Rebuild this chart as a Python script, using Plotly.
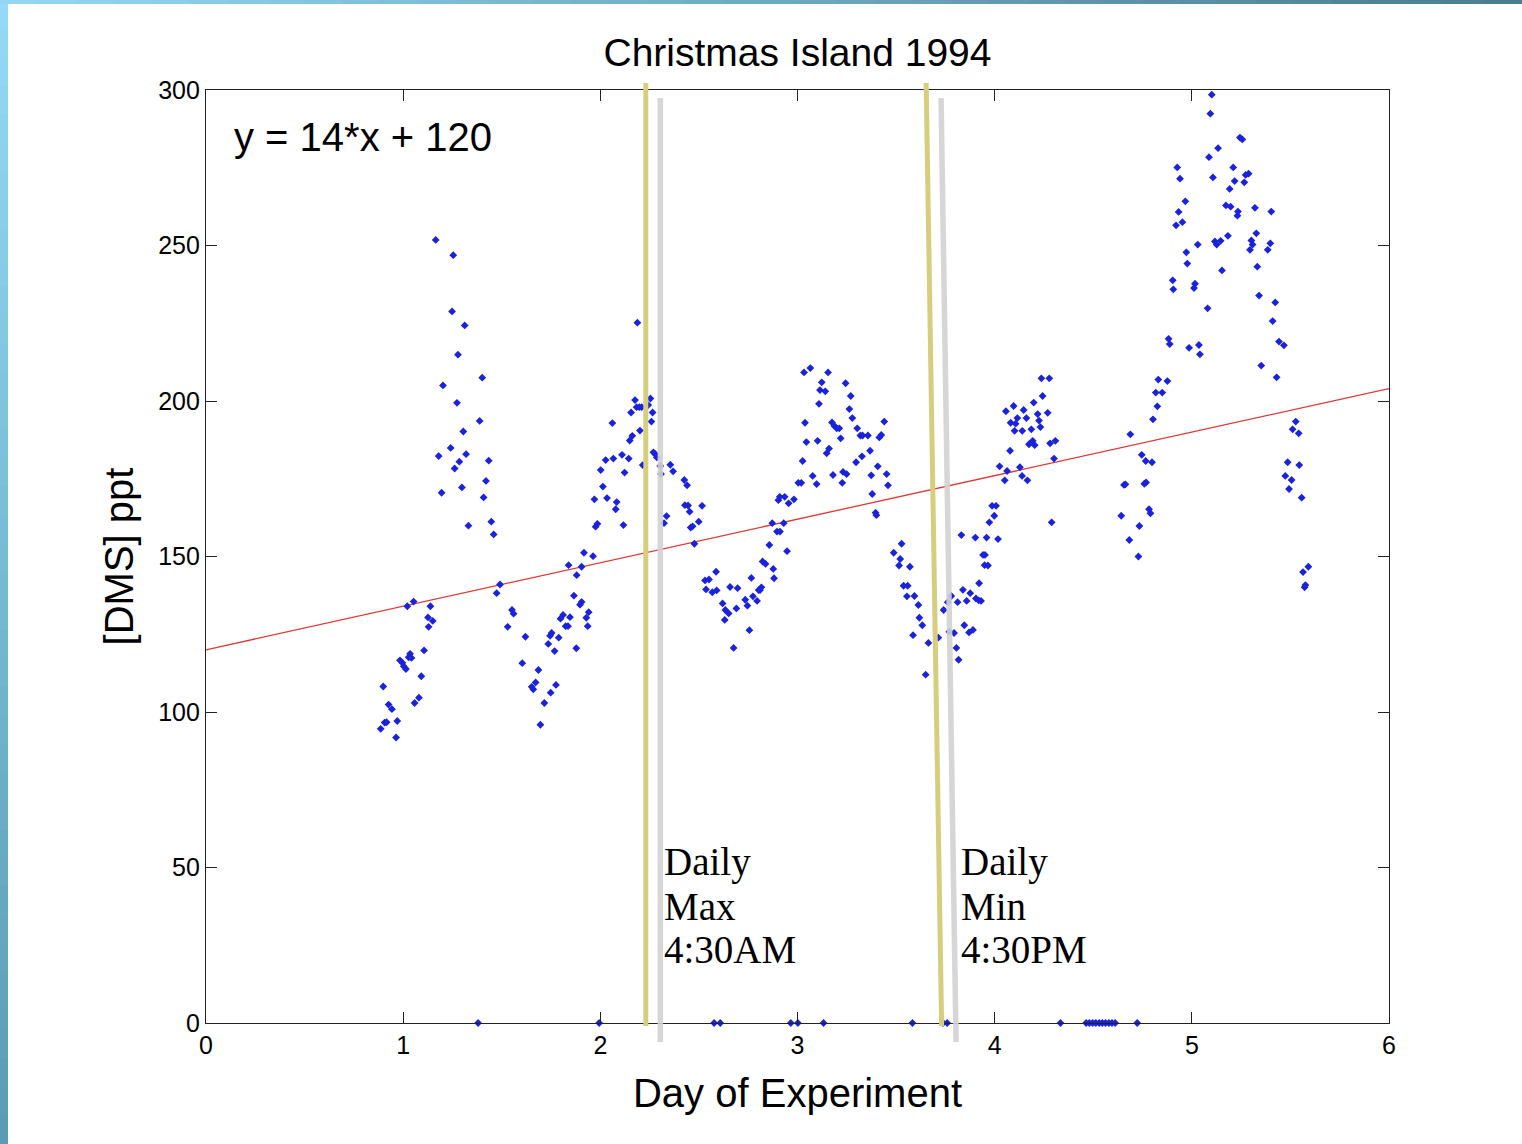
import plotly.graph_objects as go

# DMS readings, Christmas Island 1994: day of experiment vs concentration (ppt)
day = [
    0.886, 0.899, 0.906, 0.916, 0.926, 0.943, 0.964, 0.970, 0.984, 0.996,
    1.003, 1.014, 1.021, 1.028, 1.035, 1.042, 1.053, 1.058, 1.080, 1.092,
    1.106, 1.126, 1.129, 1.138, 1.150,
    1.165, 1.180, 1.195, 1.202, 1.241, 1.248, 1.254, 1.261, 1.273, 1.278,
    1.285, 1.298, 1.305, 1.312, 1.319, 1.331, 1.388, 1.401, 1.408, 1.420,
    1.434, 1.447, 1.459,
    1.474, 1.491, 1.530, 1.552, 1.560, 1.604, 1.620, 1.652, 1.660, 1.672,
    1.686, 1.696, 1.716, 1.736, 1.745, 1.748, 1.753, 1.768, 1.775, 1.789,
    1.798, 1.811, 1.824, 1.836, 1.839, 1.846, 1.866, 1.878, 1.880, 1.897,
    1.905, 1.905, 1.917, 1.929, 1.936, 1.941, 1.963, 1.970, 1.976, 1.985,
    2.002, 2.013, 2.027, 2.034, 2.061, 2.066, 2.078, 2.083, 2.110, 2.117,
    2.123, 2.144, 2.149, 2.156, 2.162, 2.176, 2.184, 2.188, 2.198, 2.201,
    2.210, 2.215, 2.243, 2.254, 2.259, 2.265, 2.269, 2.279, 2.286, 2.304,
    2.308, 2.323, 2.336, 2.355, 2.369, 2.426, 2.429, 2.440, 2.445, 2.453,
    2.458, 2.468, 2.477, 2.499, 2.516, 2.531, 2.536, 2.551, 2.568, 2.587,
    2.590, 2.620, 2.631, 2.634, 2.651, 2.658, 2.676, 2.690, 2.696, 2.735,
    2.746, 2.756, 2.766, 2.774, 2.795, 2.803, 2.810, 2.817, 2.823, 2.838,
    2.857, 2.872, 2.877, 2.881, 2.896, 2.903, 2.910, 2.911, 2.930, 2.935,
    2.947, 2.955, 2.982, 3.004, 3.019, 3.026, 3.033, 3.038, 3.045, 3.065,
    3.077, 3.097, 3.102, 3.109, 3.114, 3.123, 3.141, 3.148, 3.155, 3.160,
    3.175, 3.180, 3.187, 3.199, 3.212, 3.219, 3.227, 3.231, 3.244, 3.249,
    3.263, 3.270, 3.278, 3.297, 3.303, 3.319, 3.327, 3.330, 3.357, 3.368,
    3.374, 3.379, 3.396, 3.400, 3.407, 3.415, 3.425, 3.440, 3.452, 3.459,
    3.488, 3.515, 3.521, 3.528, 3.538, 3.555, 3.559, 3.570, 3.586, 3.593,
    3.613, 3.618, 3.633, 3.650, 3.664, 3.714, 3.741, 3.762, 3.770, 3.780,
    3.794, 3.806, 3.812, 3.817, 3.831, 3.839, 3.846, 3.858, 3.870, 3.876,
    3.890, 3.902, 3.905, 3.919, 3.921, 3.931, 3.941, 3.949, 3.951, 3.959,
    3.966, 3.973, 3.987, 3.998, 4.007, 4.017, 4.025, 4.051, 4.057, 4.063,
    4.078, 4.081, 4.096, 4.101, 4.106, 4.115, 4.128, 4.139, 4.140, 4.147,
    4.161, 4.166, 4.174, 4.186, 4.193, 4.198, 4.203, 4.218, 4.225, 4.232,
    4.237, 4.243, 4.269, 4.277, 4.281, 4.289, 4.301, 4.308,
    4.642, 4.656, 4.663, 4.683, 4.688, 4.729, 4.734, 4.746, 4.759, 4.766,
    4.768, 4.783, 4.790, 4.798, 4.803, 4.817, 4.825, 4.830, 4.850, 4.876,
    4.882, 4.888, 4.903, 4.906, 4.920, 4.926, 4.933, 4.940, 4.952, 4.967,
    4.972, 4.977, 4.986, 5.011, 5.016, 5.030, 5.036, 5.041, 5.080, 5.087,
    5.094, 5.101, 5.107, 5.117, 5.126, 5.133, 5.146, 5.153, 5.173, 5.183,
    5.192, 5.197, 5.210, 5.217, 5.231, 5.234, 5.244, 5.256, 5.266, 5.273,
    5.288, 5.295, 5.302, 5.308, 5.320, 5.327, 5.332, 5.341, 5.352, 5.385,
    5.398, 5.403, 5.410, 5.423, 5.430, 5.442, 5.467, 5.474, 5.486, 5.493,
    5.506, 5.511, 5.527, 5.542, 5.545, 5.557, 5.564, 5.572, 5.576, 5.591,
    # readings that came back as zero
    1.380, 1.994, 2.577, 2.608, 2.966, 3.002, 3.132, 3.583, 3.738, 3.759,
    4.334, 4.464, 4.480, 4.497, 4.513, 4.530, 4.546, 4.562, 4.579, 4.595,
    4.611, 4.723,
]

dms = [
    94.6, 108.2, 96.6, 96.7, 102.4, 100.9, 91.8, 97.1, 116.6, 115.8,
    114.7, 113.8, 134.0, 117.6, 118.7, 117.4, 135.5, 102.9, 104.6, 111.5,
    119.8, 130.4, 127.4, 134.0, 129.3,
    251.8, 182.3, 170.5, 205.0, 184.9, 228.8, 246.9, 178.3, 199.4, 214.9,
    180.5, 172.2, 190.2, 224.3, 182.9, 159.9, 193.6, 207.5, 169.0, 174.3,
    180.8, 161.2, 157.1,
    138.2, 141.0, 127.4, 132.8, 131.6, 115.7, 124.2, 108.1, 107.3, 109.5,
    113.5, 95.9, 102.9, 121.9, 124.5, 106.2, 125.4, 119.6, 108.7, 123.9,
    130.0, 131.2, 127.6, 127.6, 147.2, 130.5, 137.4, 120.5, 144.0, 134.5,
    135.4, 146.7, 151.2, 130.3, 127.6, 132.1, 150.1, 168.4, 159.6, 160.5,
    177.8, 172.5, 181.0, 168.8, 192.9, 181.5, 165.2, 167.5, 182.7, 160.1,
    177.0, 181.5, 187.3, 196.3, 188.8, 200.3, 198.0, 225.2, 198.0, 190.5,
    198.0, 179.4, 198.7, 200.8, 193.4, 196.3, 183.5, 182.9, 181.9, 179.1,
    176.5, 160.7, 163.0, 179.5, 177.4, 174.6, 166.5, 172.9, 166.4, 164.4,
    159.3, 159.7, 154.1, 161.2, 166.3, 142.3, 139.4, 142.6, 138.5, 145.1,
    139.1, 134.9, 129.6, 132.8, 131.7, 140.2, 120.6, 133.3, 139.8, 136.1,
    134.2, 126.3, 143.1, 137.2, 135.7, 139.2, 139.2, 140.1, 148.4, 147.6,
    153.7, 160.7, 146.0, 143.0, 158.0, 168.1, 169.2, 158.0, 160.7, 169.2,
    151.7, 167.1, 168.4, 173.7, 173.7, 180.7, 209.2, 193.0, 186.8, 210.6,
    175.9, 173.3, 187.2, 199.1, 203.5, 206.0, 203.1, 183.2, 209.2, 184.7,
    193.1, 176.2, 192.0, 191.2, 191.2, 188.0, 173.7, 177.2, 205.7, 176.5,
    197.4, 201.6, 194.5, 180.3, 191.2, 188.9, 182.2, 188.9, 188.9, 184.0,
    176.1, 170.1, 164.1, 163.3, 179.0, 188.3, 189.1, 193.4, 176.5, 172.9,
    151.2, 147.1, 149.2, 154.1, 140.6, 137.2, 140.6, 146.7, 124.7, 137.3,
    134.4, 130.3, 127.9, 112.0, 122.2, 123.9, 132.8, 135.3, 125.8, 137.3,
    125.4, 120.6, 135.3, 116.8, 156.9, 139.3, 127.9, 135.7, 125.6, 138.2,
    126.4, 156.1, 136.5, 135.9, 141.4, 135.7, 150.5, 147.2, 150.5, 156.1,
    147.1, 161.0, 166.3, 163.1, 166.3, 155.6, 179.0, 174.5, 196.7, 177.5,
    184.0, 193.0, 198.4, 190.4, 192.7, 194.5, 178.7, 175.9, 190.4, 197.1,
    194.5, 174.5, 186.1, 190.9, 187.2, 199.5, 185.8, 195.8, 193.7, 191.6,
    207.3, 201.6, 196.2, 207.3, 186.4, 161.0, 181.5, 187.2,
    163.1, 173.0, 173.2, 155.3, 189.3, 150.0, 159.8, 182.7, 173.4, 180.7,
    173.8, 165.2, 163.9, 180.3, 194.1, 202.7, 198.3, 206.9, 202.7, 206.4,
    220.0, 218.3, 238.8, 235.9, 256.5, 275.1, 260.8, 271.5, 257.5, 264.2,
    247.8, 244.2, 217.1, 236.3, 237.7, 250.3, 218.0, 215.0, 229.8, 278.4,
    292.4, 298.5, 271.9, 251.3, 250.3, 281.3, 251.5, 242.0, 262.9, 253.1,
    268.2, 262.5, 275.1, 270.7, 259.6, 260.9, 284.7, 284.1, 270.3, 272.7,
    273.1, 248.6, 251.6, 250.3, 262.1, 253.9, 243.2, 233.9, 211.4, 248.6,
    250.7, 260.9, 225.7, 231.7, 207.6, 219.1, 217.9, 175.9, 180.3, 171.7,
    174.6, 190.9, 193.4, 189.6, 179.4, 168.9, 145.0, 140.1, 140.8, 146.7,
    0.0, 0.0, 0.0, 0.0, 0.0, 0.0, 0.0, 0.0, 0.0, 0.0,
    0.0, 0.0, 0.0, 0.0, 0.0, 0.0, 0.0, 0.0, 0.0, 0.0,
    0.0, 0.0,
]

# linear fit reported on the chart
fit_slope = 14
fit_intercept = 120
fit_days = [0, 6]
fit_dms = [fit_slope * d + fit_intercept for d in fit_days]

x_ticks = [0, 1, 2, 3, 4, 5, 6]
y_ticks = [0, 50, 100, 150, 200, 250, 300]

# daily max / min markers (day at top edge, day at bottom edge)
max_yellow = (2.2306, 2.2306)
max_grey = (2.3043, 2.3043)
min_yellow = (3.6525, 3.7309)
min_grey = (3.7281, 3.8043)

# ---- layout geometry (pixels) ----
W, H = 1522, 1144
ML, MR, MT, MB = 206, 133, 90, 121
PW, PH = W - ML - MR, H - MT - MB


def px_x(p):
    return (p - ML) / PW


def px_y(p):
    return (H - MB - p) / PH


SANS = "Liberation Sans, Arial, Helvetica, sans-serif"
SERIF = "Liberation Serif, Times New Roman, serif"

fig = go.Figure()

fig.add_trace(go.Scatter(
    x=fit_days, y=fit_dms, mode="lines",
    line=dict(color="#d93a36", width=1.3),
    hoverinfo="skip",
))

fig.add_trace(go.Scatter(
    x=day, y=dms, mode="markers",
    marker=dict(symbol="diamond", size=6, color="#1a22dc", line=dict(width=0)),
    cliponaxis=False,
))

shapes = []


def vline(xs, y_top, y_bot, color, width, opacity=1.0):
    shapes.append(dict(
        type="line", xref="x", yref="paper",
        x0=xs[0], x1=xs[1], y0=px_y(y_top), y1=px_y(y_bot),
        line=dict(color=color, width=width), opacity=opacity, layer="above",
    ))


YELLOW = "#d6ce7c"
GREY = "#d2d2d2"
vline(max_yellow, 83, 1026, YELLOW, 5)
vline(max_grey, 98, 1042, GREY, 5.5, 0.9)
vline(min_yellow, 83, 1026, YELLOW, 5)
vline(min_grey, 98, 1042, GREY, 5.5, 0.9)


def lerp_color(c0, c1, t):
    a = [int(c0[i:i + 2], 16) for i in (1, 3, 5)]
    b = [int(c1[i:i + 2], 16) for i in (1, 3, 5)]
    return "#" + "".join("%02x" % round(a[k] + (b[k] - a[k]) * t) for k in range(3))


# slide frame: gradient strips along the left and top edges
n = 40
for i in range(n):
    y0p, y1p = H * i / n, H * (i + 1) / n + 1
    shapes.append(dict(
        type="rect", xref="paper", yref="paper", layer="below",
        x0=px_x(0), x1=px_x(8), y0=px_y(y0p), y1=px_y(y1p),
        fillcolor=lerp_color("#94d9f5", "#5c9bb3", i / (n - 1)), line=dict(width=0),
    ))
for i in range(n):
    x0p, x1p = W * i / n, W * (i + 1) / n + 1
    shapes.append(dict(
        type="rect", xref="paper", yref="paper", layer="below",
        x0=px_x(x0p), x1=px_x(x1p), y0=px_y(0), y1=px_y(4),
        fillcolor=lerp_color("#92d6f2", "#4a7c92", i / (n - 1)), line=dict(width=0),
    ))

annotations = [
    dict(text="y = 14*x + 120", x=0.132, y=284.9, xref="x", yref="y",
         xanchor="left", yanchor="middle", showarrow=False,
         font=dict(family=SANS, size=40, color="black")),
]

label_rows = [51.8, 37.6, 23.5]
for xx, lines in ((2.313, ["Daily", "Max", "4:30AM"]), (3.819, ["Daily", "Min", "4:30PM"])):
    for yy, txt in zip(label_rows, lines):
        annotations.append(dict(
            text=txt, x=xx, y=yy, xref="x", yref="y",
            xanchor="left", yanchor="middle", showarrow=False,
            font=dict(family=SERIF, size=39, color="black"),
        ))

axis_common = dict(
    showline=True, linecolor="#222222", linewidth=1.3, mirror="ticks",
    ticks="inside", ticklen=11, tickwidth=1.2, tickcolor="#222222",
    showgrid=False, zeroline=False,
    tickfont=dict(family=SANS, size=25, color="black"),
)

fig.update_layout(
    width=W, height=H,
    margin=dict(l=ML, r=MR, t=MT, b=MB, autoexpand=False),
    paper_bgcolor="white", plot_bgcolor="white",
    showlegend=False,
    title=dict(text="Christmas Island 1994", x=0.5, xref="paper", xanchor="center",
               y=1 - 52 / H, yref="container", yanchor="middle",
               font=dict(family=SANS, size=39, color="black")),
    xaxis=dict(range=[0, 6], tickvals=x_ticks, ticktext=[str(v) for v in x_ticks],
               title=dict(text="Day of Experiment", standoff=20,
                          font=dict(family=SANS, size=40, color="black")),
               **axis_common),
    yaxis=dict(range=[0, 300], tickvals=y_ticks, ticktext=[str(v) for v in y_ticks],
               title=dict(text="[DMS] ppt", standoff=12,
                          font=dict(family=SANS, size=40, color="black")),
               **axis_common),
    shapes=shapes,
    annotations=annotations,
)

fig.write_html("out.html")
